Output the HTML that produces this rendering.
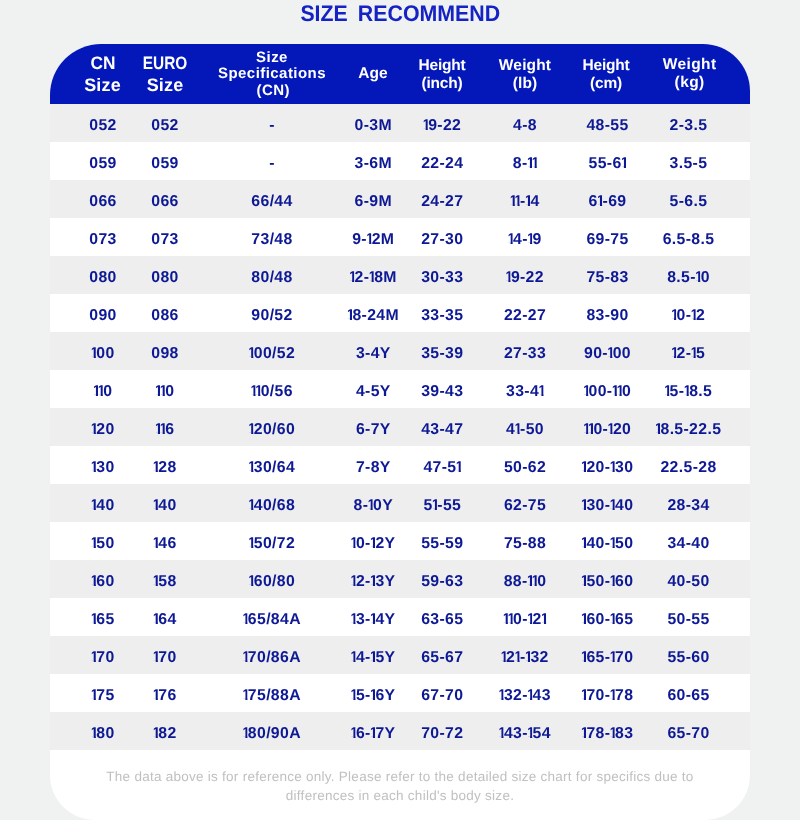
<!DOCTYPE html>
<html lang="en"><head><meta charset="utf-8"><title>Size Recommend</title>
<style>
html,body{margin:0;padding:0;}
body{width:800px;height:820px;background:#f0f2f2;position:relative;overflow:hidden;font-family:"Liberation Sans",sans-serif;text-rendering:geometricPrecision;}
.title{position:absolute;left:0;top:0;width:800px;text-align:center;font-weight:bold;font-size:22.6px;line-height:29px;height:29px;color:#1522c4;letter-spacing:0;}
.title span{position:absolute;top:-0.7px;white-space:nowrap;transform-origin:50% 50%;}
.t1{left:323.5px;transform:translateX(-50%) scaleX(0.94);}
.t2{left:428.8px;transform:translateX(-50%) scaleX(0.945);}
.card{position:absolute;left:50px;top:44px;width:700px;height:776px;background:#fff;border-radius:51px 47px 45px 45px;overflow:hidden;}
.head{position:absolute;left:0;top:0;width:700px;height:59.5px;background:#0418ba;}
.hc{position:absolute;width:140px;text-align:center;color:#fff;font-weight:bold;}
.h2{font-size:18px;line-height:21.7px;top:9.4px;letter-spacing:0.15px;}
.h2 i{font-style:normal;display:inline-block;letter-spacing:0;transform:scaleX(0.855);}
.h2s{font-size:15.5px;line-height:18px;top:12.5px;letter-spacing:0.15px;}
.hh{letter-spacing:-0.2px;}
.wk{top:11.8px;letter-spacing:0.4px;}
.cn{position:relative;left:1.2px;top:-0.4px;}
.h3{font-size:15px;line-height:16.5px;top:5.9px;letter-spacing:0.45px;}
.h1{font-size:15.5px;line-height:17px;top:20.5px;letter-spacing:0.1px;}
.row{position:absolute;left:0;width:700px;height:38px;}
.g{background:#eeeeee;}
.c{position:absolute;top:0;width:140px;text-align:center;line-height:44px;font-size:15.8px;font-weight:bold;color:#0c1894;letter-spacing:0.35px;white-space:nowrap;}
.o{display:inline-block;width:4.1px;margin-left:0.3px;margin-right:0.4px;text-indent:-1.7px;text-align:left;letter-spacing:0;line-height:17px;clip-path:polygon(0 0,100% 0,100% 100%,1.95px 100%,1.95px 11.7px,0 11.7px);}
.note{position:absolute;left:0;top:722.5px;width:700px;text-align:center;font-size:13.5px;line-height:19px;color:#c0c0c0;letter-spacing:0.26px;}
</style></head><body>
<div class="title"><span class="t1">SIZE</span> <span class="t2">RECOMMEND</span></div>
<div class="card">
<div class="head">
<div class="hc h2" style="left:-17.5px"><i style="transform:scaleX(0.96)">CN</i><br>Size</div>
<div class="hc h2" style="left:45px"><i>EURO</i><br>Size</div>
<div class="hc h3" style="left:152px">Size<br>Specifications<br><span class="cn">(CN)</span></div>
<div class="hc h1" style="left:253px">Age</div>
<div class="hc h2s hh" style="left:322px">Height<br>(inch)</div>
<div class="hc h2s" style="left:405px">Weight<br>(lb)</div>
<div class="hc h2s hh" style="left:486px">Height<br>(cm)</div>
<div class="hc h2s wk" style="left:569.6px">Weight<br>(kg)</div>
</div>
<div class="row g" style="top:59.5px">
<span class="c" style="left:-17px">052</span>
<span class="c" style="left:45px">052</span>
<span class="c" style="left:152px">-</span>
<span class="c" style="left:253.3px">0-3M</span>
<span class="c" style="left:322.3px"><span class="o">1</span>9-22</span>
<span class="c" style="left:405px">4-8</span>
<span class="c" style="left:487.5px">48-55</span>
<span class="c" style="left:568.5px">2-3.5</span>
</div>
<div class="row" style="top:97.5px">
<span class="c" style="left:-17px">059</span>
<span class="c" style="left:45px">059</span>
<span class="c" style="left:152px">-</span>
<span class="c" style="left:253.3px">3-6M</span>
<span class="c" style="left:322.3px">22-24</span>
<span class="c" style="left:405px">8-<span class="o">1</span><span class="o">1</span></span>
<span class="c" style="left:487.5px">55-6<span class="o">1</span></span>
<span class="c" style="left:568.5px">3.5-5</span>
</div>
<div class="row g" style="top:135.5px">
<span class="c" style="left:-17px">066</span>
<span class="c" style="left:45px">066</span>
<span class="c" style="left:152px">66/44</span>
<span class="c" style="left:253.3px">6-9M</span>
<span class="c" style="left:322.3px">24-27</span>
<span class="c" style="left:405px"><span class="o">1</span><span class="o">1</span>-<span class="o">1</span>4</span>
<span class="c" style="left:487.5px">6<span class="o">1</span>-69</span>
<span class="c" style="left:568.5px">5-6.5</span>
</div>
<div class="row" style="top:173.5px">
<span class="c" style="left:-17px">073</span>
<span class="c" style="left:45px">073</span>
<span class="c" style="left:152px">73/48</span>
<span class="c" style="left:253.3px">9-<span class="o">1</span>2M</span>
<span class="c" style="left:322.3px">27-30</span>
<span class="c" style="left:405px"><span class="o">1</span>4-<span class="o">1</span>9</span>
<span class="c" style="left:487.5px">69-75</span>
<span class="c" style="left:568.5px">6.5-8.5</span>
</div>
<div class="row g" style="top:211.5px">
<span class="c" style="left:-17px">080</span>
<span class="c" style="left:45px">080</span>
<span class="c" style="left:152px">80/48</span>
<span class="c" style="left:253.3px"><span class="o">1</span>2-<span class="o">1</span>8M</span>
<span class="c" style="left:322.3px">30-33</span>
<span class="c" style="left:405px"><span class="o">1</span>9-22</span>
<span class="c" style="left:487.5px">75-83</span>
<span class="c" style="left:568.5px">8.5-<span class="o">1</span>0</span>
</div>
<div class="row" style="top:249.5px">
<span class="c" style="left:-17px">090</span>
<span class="c" style="left:45px">086</span>
<span class="c" style="left:152px">90/52</span>
<span class="c" style="left:253.3px"><span class="o">1</span>8-24M</span>
<span class="c" style="left:322.3px">33-35</span>
<span class="c" style="left:405px">22-27</span>
<span class="c" style="left:487.5px">83-90</span>
<span class="c" style="left:568.5px"><span class="o">1</span>0-<span class="o">1</span>2</span>
</div>
<div class="row g" style="top:287.5px">
<span class="c" style="left:-17px"><span class="o">1</span>00</span>
<span class="c" style="left:45px">098</span>
<span class="c" style="left:152px"><span class="o">1</span>00/52</span>
<span class="c" style="left:253.3px">3-4Y</span>
<span class="c" style="left:322.3px">35-39</span>
<span class="c" style="left:405px">27-33</span>
<span class="c" style="left:487.5px">90-<span class="o">1</span>00</span>
<span class="c" style="left:568.5px"><span class="o">1</span>2-<span class="o">1</span>5</span>
</div>
<div class="row" style="top:325.5px">
<span class="c" style="left:-17px"><span class="o">1</span><span class="o">1</span>0</span>
<span class="c" style="left:45px"><span class="o">1</span><span class="o">1</span>0</span>
<span class="c" style="left:152px"><span class="o">1</span><span class="o">1</span>0/56</span>
<span class="c" style="left:253.3px">4-5Y</span>
<span class="c" style="left:322.3px">39-43</span>
<span class="c" style="left:405px">33-4<span class="o">1</span></span>
<span class="c" style="left:487.5px"><span class="o">1</span>00-<span class="o">1</span><span class="o">1</span>0</span>
<span class="c" style="left:568.5px"><span class="o">1</span>5-<span class="o">1</span>8.5</span>
</div>
<div class="row g" style="top:363.5px">
<span class="c" style="left:-17px"><span class="o">1</span>20</span>
<span class="c" style="left:45px"><span class="o">1</span><span class="o">1</span>6</span>
<span class="c" style="left:152px"><span class="o">1</span>20/60</span>
<span class="c" style="left:253.3px">6-7Y</span>
<span class="c" style="left:322.3px">43-47</span>
<span class="c" style="left:405px">4<span class="o">1</span>-50</span>
<span class="c" style="left:487.5px"><span class="o">1</span><span class="o">1</span>0-<span class="o">1</span>20</span>
<span class="c" style="left:568.5px"><span class="o">1</span>8.5-22.5</span>
</div>
<div class="row" style="top:401.5px">
<span class="c" style="left:-17px"><span class="o">1</span>30</span>
<span class="c" style="left:45px"><span class="o">1</span>28</span>
<span class="c" style="left:152px"><span class="o">1</span>30/64</span>
<span class="c" style="left:253.3px">7-8Y</span>
<span class="c" style="left:322.3px">47-5<span class="o">1</span></span>
<span class="c" style="left:405px">50-62</span>
<span class="c" style="left:487.5px"><span class="o">1</span>20-<span class="o">1</span>30</span>
<span class="c" style="left:568.5px">22.5-28</span>
</div>
<div class="row g" style="top:439.5px">
<span class="c" style="left:-17px"><span class="o">1</span>40</span>
<span class="c" style="left:45px"><span class="o">1</span>40</span>
<span class="c" style="left:152px"><span class="o">1</span>40/68</span>
<span class="c" style="left:253.3px">8-<span class="o">1</span>0Y</span>
<span class="c" style="left:322.3px">5<span class="o">1</span>-55</span>
<span class="c" style="left:405px">62-75</span>
<span class="c" style="left:487.5px"><span class="o">1</span>30-<span class="o">1</span>40</span>
<span class="c" style="left:568.5px">28-34</span>
</div>
<div class="row" style="top:477.5px">
<span class="c" style="left:-17px"><span class="o">1</span>50</span>
<span class="c" style="left:45px"><span class="o">1</span>46</span>
<span class="c" style="left:152px"><span class="o">1</span>50/72</span>
<span class="c" style="left:253.3px"><span class="o">1</span>0-<span class="o">1</span>2Y</span>
<span class="c" style="left:322.3px">55-59</span>
<span class="c" style="left:405px">75-88</span>
<span class="c" style="left:487.5px"><span class="o">1</span>40-<span class="o">1</span>50</span>
<span class="c" style="left:568.5px">34-40</span>
</div>
<div class="row g" style="top:515.5px">
<span class="c" style="left:-17px"><span class="o">1</span>60</span>
<span class="c" style="left:45px"><span class="o">1</span>58</span>
<span class="c" style="left:152px"><span class="o">1</span>60/80</span>
<span class="c" style="left:253.3px"><span class="o">1</span>2-<span class="o">1</span>3Y</span>
<span class="c" style="left:322.3px">59-63</span>
<span class="c" style="left:405px">88-<span class="o">1</span><span class="o">1</span>0</span>
<span class="c" style="left:487.5px"><span class="o">1</span>50-<span class="o">1</span>60</span>
<span class="c" style="left:568.5px">40-50</span>
</div>
<div class="row" style="top:553.5px">
<span class="c" style="left:-17px"><span class="o">1</span>65</span>
<span class="c" style="left:45px"><span class="o">1</span>64</span>
<span class="c" style="left:152px"><span class="o">1</span>65/84A</span>
<span class="c" style="left:253.3px"><span class="o">1</span>3-<span class="o">1</span>4Y</span>
<span class="c" style="left:322.3px">63-65</span>
<span class="c" style="left:405px"><span class="o">1</span><span class="o">1</span>0-<span class="o">1</span>2<span class="o">1</span></span>
<span class="c" style="left:487.5px"><span class="o">1</span>60-<span class="o">1</span>65</span>
<span class="c" style="left:568.5px">50-55</span>
</div>
<div class="row g" style="top:591.5px">
<span class="c" style="left:-17px"><span class="o">1</span>70</span>
<span class="c" style="left:45px"><span class="o">1</span>70</span>
<span class="c" style="left:152px"><span class="o">1</span>70/86A</span>
<span class="c" style="left:253.3px"><span class="o">1</span>4-<span class="o">1</span>5Y</span>
<span class="c" style="left:322.3px">65-67</span>
<span class="c" style="left:405px"><span class="o">1</span>2<span class="o">1</span>-<span class="o">1</span>32</span>
<span class="c" style="left:487.5px"><span class="o">1</span>65-<span class="o">1</span>70</span>
<span class="c" style="left:568.5px">55-60</span>
</div>
<div class="row" style="top:629.5px">
<span class="c" style="left:-17px"><span class="o">1</span>75</span>
<span class="c" style="left:45px"><span class="o">1</span>76</span>
<span class="c" style="left:152px"><span class="o">1</span>75/88A</span>
<span class="c" style="left:253.3px"><span class="o">1</span>5-<span class="o">1</span>6Y</span>
<span class="c" style="left:322.3px">67-70</span>
<span class="c" style="left:405px"><span class="o">1</span>32-<span class="o">1</span>43</span>
<span class="c" style="left:487.5px"><span class="o">1</span>70-<span class="o">1</span>78</span>
<span class="c" style="left:568.5px">60-65</span>
</div>
<div class="row g" style="top:667.5px">
<span class="c" style="left:-17px"><span class="o">1</span>80</span>
<span class="c" style="left:45px"><span class="o">1</span>82</span>
<span class="c" style="left:152px"><span class="o">1</span>80/90A</span>
<span class="c" style="left:253.3px"><span class="o">1</span>6-<span class="o">1</span>7Y</span>
<span class="c" style="left:322.3px">70-72</span>
<span class="c" style="left:405px"><span class="o">1</span>43-<span class="o">1</span>54</span>
<span class="c" style="left:487.5px"><span class="o">1</span>78-<span class="o">1</span>83</span>
<span class="c" style="left:568.5px">65-70</span>
</div>
<div class="note">The data above is for reference only. Please refer to the detailed size chart for specifics due to<br>differences in each child's body size.</div>
</div>
</body></html>
